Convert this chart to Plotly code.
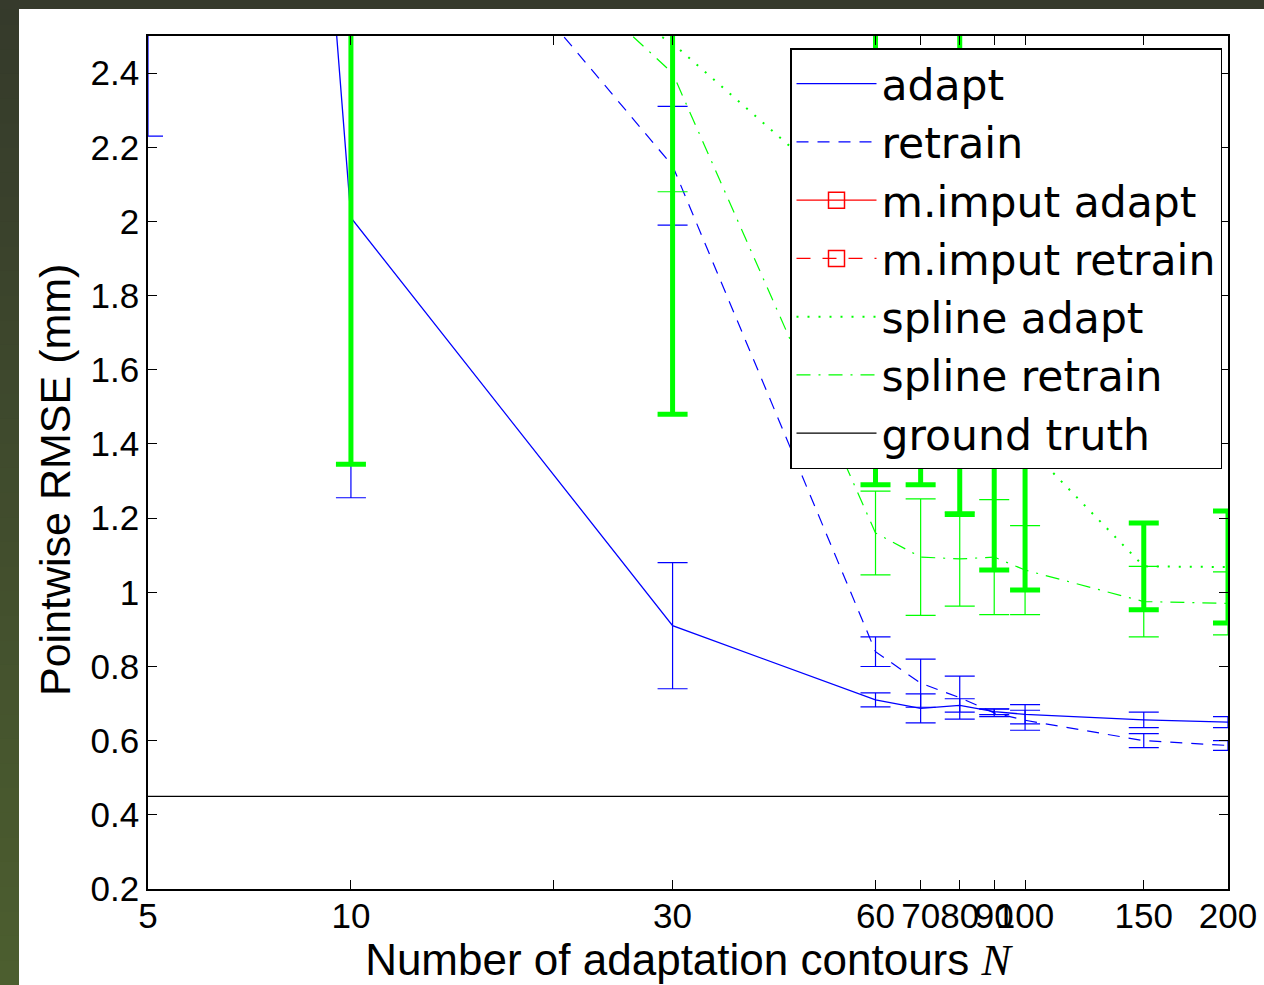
import math
import plotly.graph_objects as go

# ---------------- data ----------------
N = [5, 10, 30, 60, 70, 80, 90, 100, 150, 200]

adapt = [9.0, 2.01, 0.91, 0.71, 0.687, 0.695, 0.678, 0.671, 0.656, 0.65]
adapt_err = [6.77, 0.755, 0.17, 0.019, 0.039, 0.018, 0.008, 0.026, 0.021, 0.015]

retrain = [4.5, 3.18, 2.15, 0.84, 0.755, 0.716, 0.675, 0.655, 0.60, 0.587]
retrain_err = [0.5, 0.5, 0.16, 0.04, 0.065, 0.058, 0.01, 0.027, 0.019, 0.013]

mimput_adapt = [None] * len(N)
mimput_retrain = [None] * len(N)

spline_adapt = [None, 3.0, 2.48, 2.0, 1.8, 1.9, 1.6, 1.40, 1.07, 1.068]
spline_adapt_err = [0, 1.655, 1.0, 0.71, 0.51, 0.69, 0.54, 0.394, 0.117, 0.151]

spline_retrain = [None, 3.2, 2.40, 1.16, 1.095, 1.09, 1.095, 1.06, 0.975, 0.97]
spline_retrain_err = [0, 0.4, 0.32, 0.113, 0.157, 0.127, 0.155, 0.12, 0.095, 0.085]

ground_truth = [0.45] * len(N)

xtick_vals = [5, 10, 20, 30, 60, 70, 80, 90, 100, 150, 200]
xtick_text = ["5", "10", "", "30", "60", "70", "80", "90", "100", "150", "200"]
ytick_vals = [0.2, 0.4, 0.6, 0.8, 1.0, 1.2, 1.4, 1.6, 1.8, 2.0, 2.2, 2.4]
ytick_text = ["0.2", "0.4", "0.6", "0.8", "1", "1.2", "1.4", "1.6", "1.8", "2", "2.2", "2.4"]

# ---------------- figure ----------------
FONT = "Liberation Sans, Arial, Helvetica, sans-serif"
LEGEND_FONT = "DejaVu Sans, Liberation Sans, Arial, sans-serif"
BLUE = "#0000ff"
GREEN = "#00ff00"
RED = "#ff0000"

fig = go.Figure()

fig.add_trace(go.Scatter(
    x=N, y=adapt, name="adapt", mode="lines",
    line=dict(color=BLUE, width=1.3),
    error_y=dict(type="data", array=adapt_err, color=BLUE, thickness=1.2, width=15),
))
fig.add_trace(go.Scatter(
    x=N, y=retrain, name="retrain", mode="lines",
    line=dict(color=BLUE, width=1.2, dash="12px,9px"),
    error_y=dict(type="data", array=retrain_err, color=BLUE, thickness=1.2, width=15),
))
fig.add_trace(go.Scatter(
    x=N, y=mimput_adapt, name="m.imput adapt", mode="lines+markers",
    line=dict(color=RED, width=1.2),
    marker=dict(symbol="square-open", size=18, color=RED, line=dict(width=1.5)),
))
fig.add_trace(go.Scatter(
    x=N, y=mimput_retrain, name="m.imput retrain", mode="lines+markers",
    line=dict(color=RED, width=1.2, dash="14px,12px"),
    marker=dict(symbol="square-open", size=18, color=RED, line=dict(width=1.5)),
))
fig.add_trace(go.Scatter(
    x=N, y=spline_retrain, name="spline retrain", mode="lines",
    line=dict(color=GREEN, width=1.2, dash="14px,8px,2px,8px"),
    error_y=dict(type="data", array=spline_retrain_err, color=GREEN, thickness=1.2, width=15),
    showlegend=False,
))
fig.add_trace(go.Scatter(
    x=N, y=spline_adapt, name="spline adapt", mode="lines",
    line=dict(color=GREEN, width=2, dash="2px,9px"),
    error_y=dict(type="data", array=spline_adapt_err, color=GREEN, thickness=5, width=15),
))
# legend entry for spline retrain in its proper position
fig.add_trace(go.Scatter(
    x=[None], y=[None], name="spline retrain", mode="lines",
    line=dict(color=GREEN, width=1.2, dash="14px,8px,2px,8px"),
))
fig.add_trace(go.Scatter(
    x=N, y=ground_truth, name="ground truth", mode="lines",
    line=dict(color="black", width=1.2),
))

# background frame (slide border)
px2x = lambda p: (p - 148) / 1080.0
px2y = lambda p: (889 - p) / 853.0
shapes = []
steps = 40
c0 = (0x35, 0x3a, 0x2b)
c1 = (0x4c, 0x5e, 0x2f)
for i in range(steps):
    t = i / (steps - 1)
    col = "rgb(%d,%d,%d)" % tuple(round(c0[k] + (c1[k] - c0[k]) * t) for k in range(3))
    y0 = 985 * i / steps
    y1 = 985 * (i + 1) / steps + 1
    shapes.append(dict(type="rect", xref="paper", yref="paper",
                       x0=px2x(0), x1=px2x(19), y0=px2y(y0), y1=px2y(y1),
                       fillcolor=col, line=dict(width=0), layer="above"))
shapes.append(dict(type="rect", xref="paper", yref="paper",
                   x0=px2x(0), x1=px2x(1264), y0=px2y(0), y1=px2y(9),
                   fillcolor="rgb(54,58,44)", line=dict(width=0), layer="above"))

fig.update_layout(
    width=1264, height=985,
    margin=dict(l=148, r=36, t=36, b=96, pad=0),
    paper_bgcolor="white", plot_bgcolor="white",
    font=dict(family=FONT, color="black"),
    shapes=shapes,
    showlegend=True,
    legend=dict(
        x=px2x(790), y=px2y(48), xanchor="left", yanchor="top",
        bgcolor="white", bordercolor="black", borderwidth=1.5,
        font=dict(family=LEGEND_FONT, size=42.5, color="black"),
        itemwidth=80, tracegroupgap=0,
    ),
    xaxis=dict(
        type="log", range=[math.log10(5), math.log10(200)],
        tickmode="array", tickvals=xtick_vals, ticktext=xtick_text,
        tickangle=0, automargin=False, ticklabelstandoff=-5,
        ticks="inside", ticklen=9, tickwidth=1, tickcolor="black",
        showline=True, linecolor="black", linewidth=1.5, mirror="ticks",
        showgrid=False, zeroline=False,
        tickfont=dict(family=FONT, size=35, color="black"),
        title=dict(text="Number of adaptation contours <i><span style=\"font-family:Liberation Serif\">N</span></i>",
                   font=dict(family=FONT, size=44, color="black"), standoff=4),
    ),
    yaxis=dict(
        range=[0.2, 2.5], automargin=False,
        tickmode="array", tickvals=ytick_vals, ticktext=ytick_text,
        ticks="inside", ticklen=9, tickwidth=1, tickcolor="black",
        showline=True, linecolor="black", linewidth=1.5, mirror="ticks",
        showgrid=False, zeroline=False,
        tickfont=dict(family=FONT, size=35, color="black"),
    ),
    annotations=[dict(
        text="Pointwise RMSE (mm)", textangle=-90, showarrow=False,
        xref="paper", yref="paper", x=px2x(55), y=px2y(480),
        xanchor="center", yanchor="middle",
        font=dict(family=FONT, size=43, color="black"),
    )],
)

fig.write_html("out.html")
